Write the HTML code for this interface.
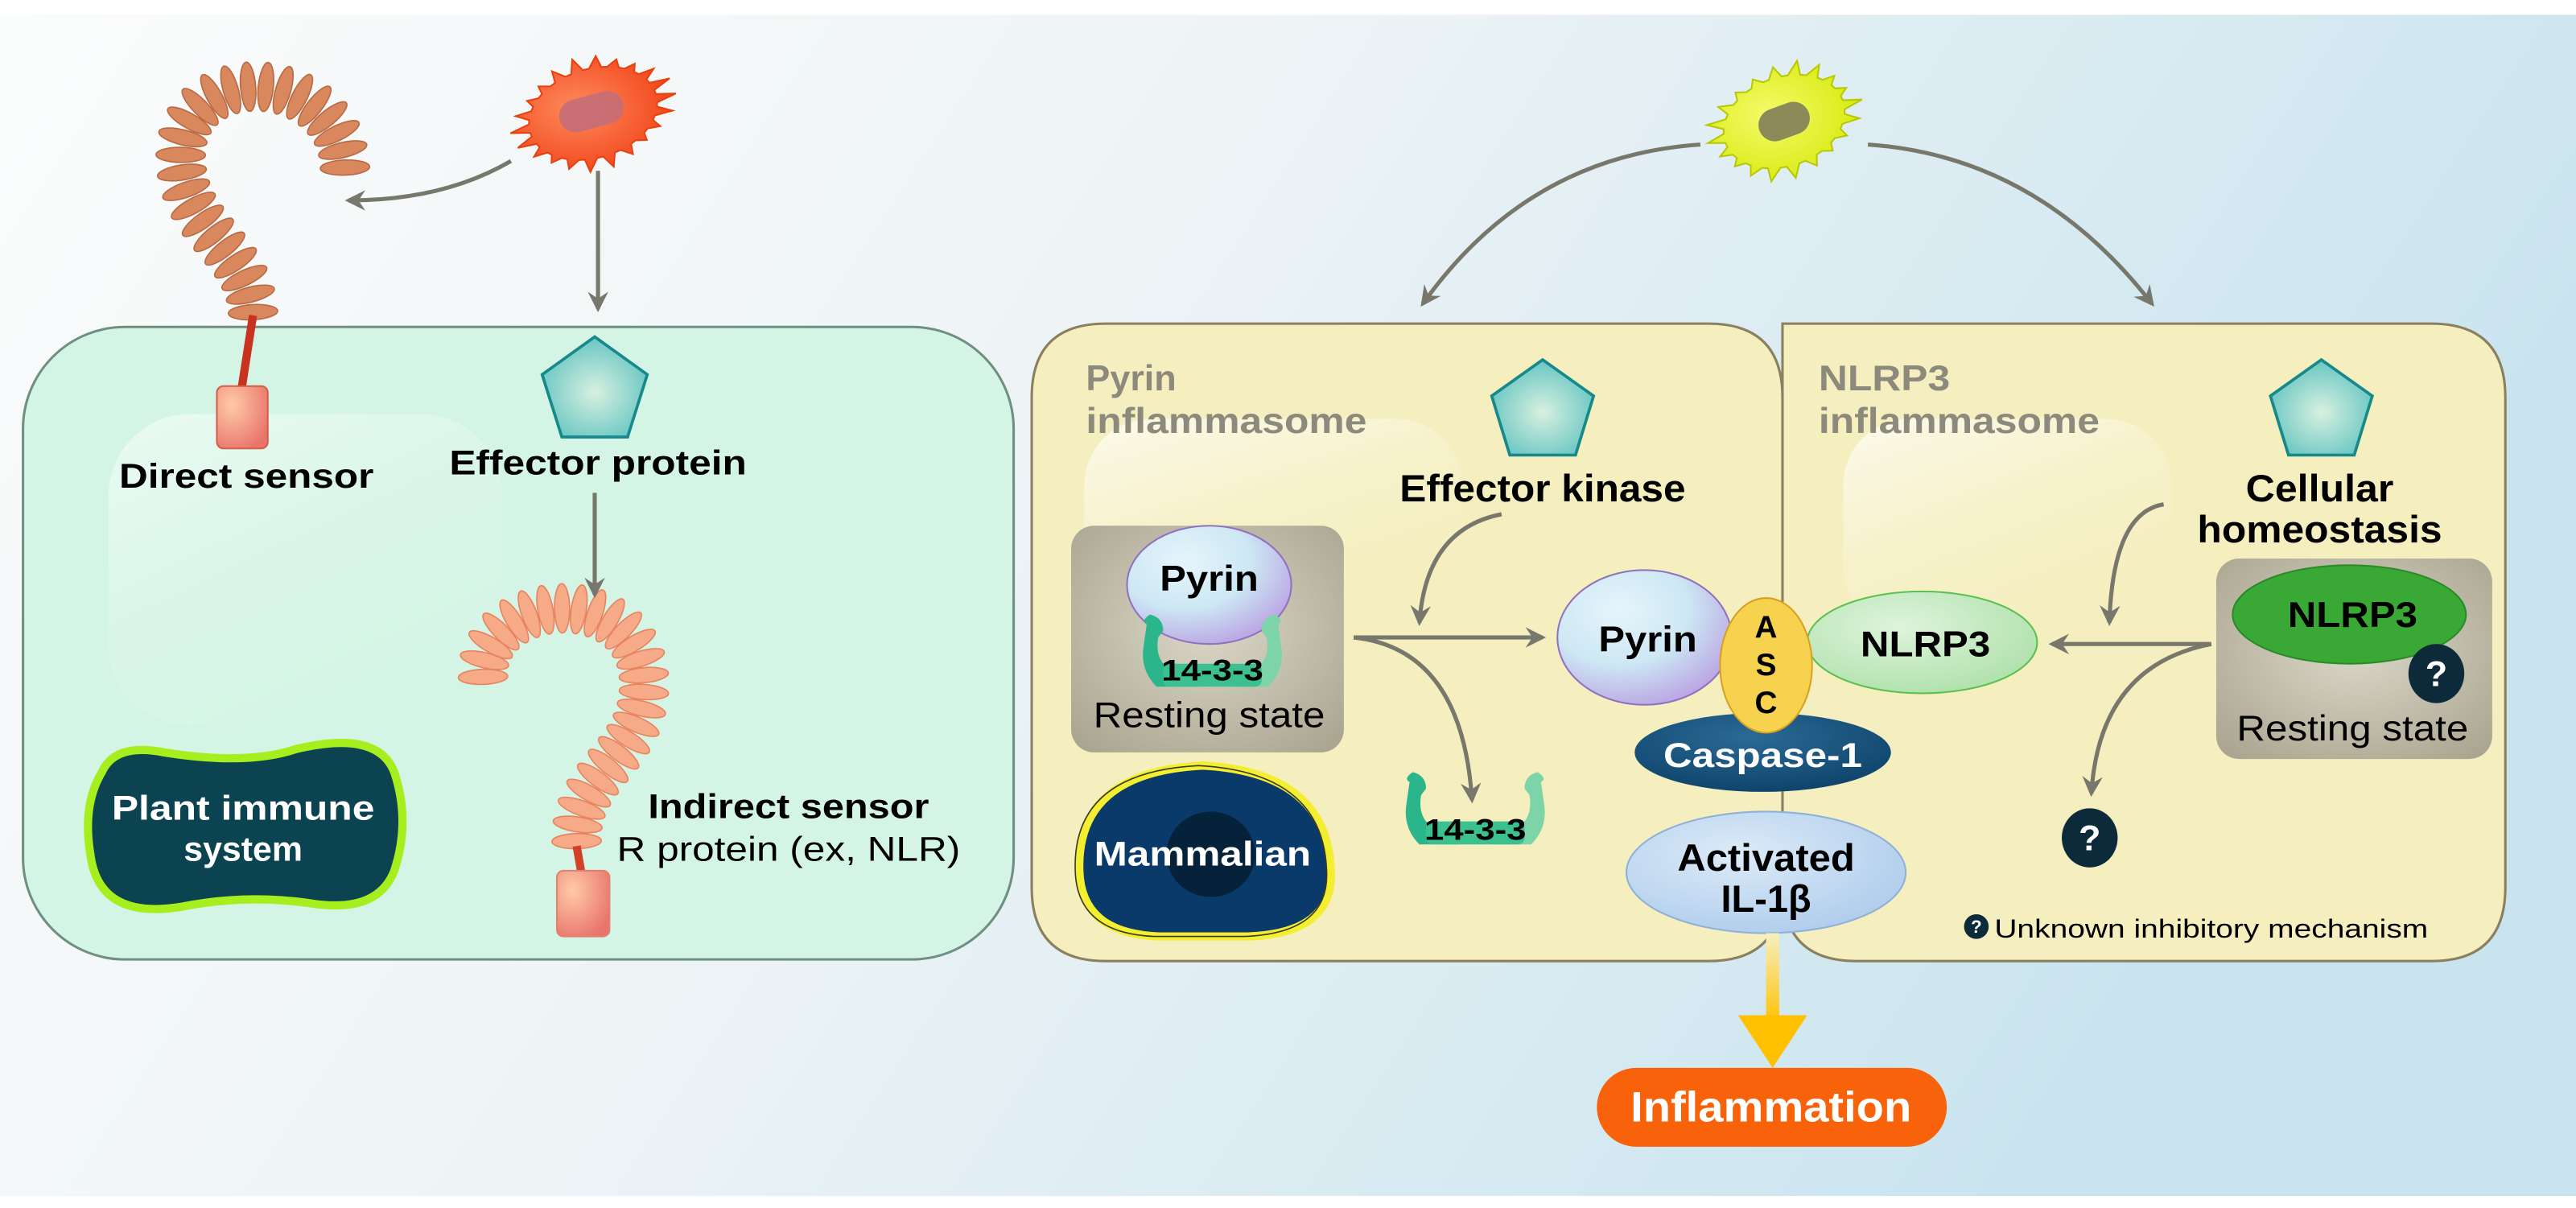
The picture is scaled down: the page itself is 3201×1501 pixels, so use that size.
<!DOCTYPE html>
<html><head><meta charset="utf-8"><style>
html,body{margin:0;padding:0;background:#fff;}
svg{display:block;}
text{font-family:"Liberation Sans",Arial,sans-serif;}
.b{font-weight:bold;}
</style></head><body>
<svg id="s" width="3201" height="1501" viewBox="0 0 1568 735.3" preserveAspectRatio="none" xmlns="http://www.w3.org/2000/svg">
<defs>
<linearGradient id="bg" x1="0" y1="0" x2="1" y2="0.3">
<stop offset="0" stop-color="#fbfcfc"/><stop offset="0.45" stop-color="#eef4f6"/><stop offset="1" stop-color="#c9e4ef"/></linearGradient>
<linearGradient id="gloss" x1="0" y1="0" x2="0.6" y2="1">
<stop offset="0" stop-color="#fff" stop-opacity="0.85"/><stop offset="0.5" stop-color="#fff" stop-opacity="0.25"/><stop offset="1" stop-color="#fff" stop-opacity="0"/></linearGradient>
<radialGradient id="pent" cx="0.5" cy="0.55" r="0.6"><stop offset="0" stop-color="#d8f0e0"/><stop offset="1" stop-color="#5ec2c0"/></radialGradient>
<radialGradient id="rest" cx="0.5" cy="0.45" r="0.7"><stop offset="0" stop-color="#dcd8c8"/><stop offset="1" stop-color="#a9a590"/></radialGradient>
<radialGradient id="pyr" cx="0.35" cy="0.3" r="0.8"><stop offset="0" stop-color="#e6f4fb"/><stop offset="0.5" stop-color="#cde8f4"/><stop offset="1" stop-color="#b79be0"/></radialGradient>
<radialGradient id="il" cx="0.4" cy="0.35" r="0.8"><stop offset="0" stop-color="#dcebf8"/><stop offset="1" stop-color="#a9c8ea"/></radialGradient>
<radialGradient id="nl" cx="0.4" cy="0.35" r="0.8"><stop offset="0" stop-color="#def4dc"/><stop offset="1" stop-color="#a9dea4"/></radialGradient>
<radialGradient id="casp" cx="0.45" cy="0.3" r="0.8"><stop offset="0" stop-color="#2a6a95"/><stop offset="1" stop-color="#0b3f66"/></radialGradient>
<radialGradient id="box" cx="0.3" cy="0.3" r="0.8"><stop offset="0" stop-color="#ffcaa8"/><stop offset="1" stop-color="#e9746a"/></radialGradient>
<radialGradient id="rb" cx="0.4" cy="0.45" r="0.6"><stop offset="0" stop-color="#ff8a5c"/><stop offset="1" stop-color="#f0451a"/></radialGradient>
<radialGradient id="yb" cx="0.4" cy="0.45" r="0.6"><stop offset="0" stop-color="#f4fb6a"/><stop offset="1" stop-color="#d7ea10"/></radialGradient>
<linearGradient id="ya" x1="0" y1="0" x2="0" y2="1"><stop offset="0" stop-color="#f6f0c0"/><stop offset="1" stop-color="#ffc000"/></linearGradient>
<marker id="ar" viewBox="0 0 12 12" refX="10" refY="6" markerWidth="5" markerHeight="5" orient="auto" markerUnits="strokeWidth">
<path d="M0,0 L12,6 L0,12 L4,6 Z" fill="#77776c"/></marker>
</defs>
<rect x="0" y="0" width="1568" height="735.3" fill="#fff"/>
<rect x="0" y="9" width="1568" height="719" fill="url(#bg)"/>

<!-- LEFT PANEL -->
<rect x="14" y="199" width="603" height="385" rx="62" fill="#d4f5e5" stroke="#6f8f80" stroke-width="1.5"/>
<rect x="66" y="252" width="240" height="190" rx="50" fill="url(#gloss)" opacity="0.6"/>

<g id="dcoil"></g>
<path d="M154,192 L147,237" stroke="#c8321e" stroke-width="5"/>
<rect x="132" y="235" width="31" height="38" rx="4" fill="url(#box)" stroke="#d06048"/>

<g id="icoil"></g>
<path d="M351,515 L354,532" stroke="#d2402a" stroke-width="5"/>
<rect x="339" y="530" width="32" height="40" rx="4" fill="url(#box)" stroke="#e08070"/>

<polygon id="rbac" fill="url(#rb)" stroke="#e8400f"/>
<rect x="340" y="58" width="40" height="20" rx="10" fill="#c46e78" opacity="0.9" transform="rotate(-15 360 68)"/>

<path d="M311,98 Q270,122 212,122" fill="none" stroke="#77776c" stroke-width="2.5" marker-end="url(#ar)"/>
<path d="M364,104 L364,188" fill="none" stroke="#77776c" stroke-width="2.5" marker-end="url(#ar)"/>
<path d="M362,300 L362,362" fill="none" stroke="#77776c" stroke-width="2.5" marker-end="url(#ar)"/>

<polygon points="362,205 394,228 382,266 342,266 330,228" fill="url(#pent)" stroke="#17898a" stroke-width="1.8"/>

<text x="150" y="290" class="b" font-size="21" text-anchor="middle" dominant-baseline="central" textLength="155" lengthAdjust="spacingAndGlyphs">Direct sensor</text>
<text x="364" y="282" class="b" font-size="21" text-anchor="middle" dominant-baseline="central" textLength="181" lengthAdjust="spacingAndGlyphs">Effector protein</text>
<text x="480" y="491" class="b" font-size="21" text-anchor="middle" dominant-baseline="central" textLength="171" lengthAdjust="spacingAndGlyphs">Indirect sensor</text>
<text x="480" y="517" font-size="21" text-anchor="middle" dominant-baseline="central" textLength="209" lengthAdjust="spacingAndGlyphs">R protein (ex, NLR)</text>

<path d="M62,470 Q70,452 100,458 Q150,466 180,456 Q230,444 240,470 Q250,500 240,530 Q230,556 190,550 Q150,544 110,552 Q60,560 55,520 Q50,490 62,470 Z" fill="#0b4450" stroke="#a6ee1e" stroke-width="5"/>
<text x="148" y="492" class="b" font-size="21" fill="#fff" text-anchor="middle" dominant-baseline="central" textLength="160" lengthAdjust="spacingAndGlyphs">Plant immune</text>
<text x="148" y="517" class="b" font-size="21" fill="#fff" text-anchor="middle" dominant-baseline="central">system</text>

<!-- RIGHT PANELS -->
<path d="M1085,197 L1480,197 Q1525,197 1525,242 L1525,540 Q1525,585 1480,585 L1130,585 Q1085,585 1085,540 Z" fill="#f5eebe" stroke="#8a8060" stroke-width="1.5"/>
<path d="M673,197 L1040,197 Q1085,197 1085,242 L1085,540 Q1085,585 1040,585 L673,585 Q628,585 628,540 L628,242 Q628,197 673,197 Z" fill="#f5eebe" stroke="#8a8060" stroke-width="1.5"/>
<rect x="660" y="255" width="230" height="120" rx="40" fill="url(#gloss)" opacity="0.8"/>
<rect x="1122" y="255" width="200" height="130" rx="40" fill="url(#gloss)" opacity="0.8"/>

<polygon id="ybac" fill="url(#yb)" stroke="#b8c800"/>
<rect x="1070" y="64" width="32" height="20" rx="10" fill="#8c8a58" transform="rotate(-20 1086 74)"/>
<path d="M1035,88 Q930,95 866,185" fill="none" stroke="#77776c" stroke-width="2.5" marker-end="url(#ar)"/>
<path d="M1137,88 Q1240,95 1310,185" fill="none" stroke="#77776c" stroke-width="2.5" marker-end="url(#ar)"/>

<text x="661" y="230" class="b" font-size="22" fill="#8c8a7c" dominant-baseline="central">Pyrin</text>
<text x="661" y="256" class="b" font-size="22" fill="#8c8a7c" dominant-baseline="central" textLength="171" lengthAdjust="spacingAndGlyphs">inflammasome</text>
<text x="1107" y="230" class="b" font-size="22" fill="#8c8a7c" dominant-baseline="central" textLength="80" lengthAdjust="spacingAndGlyphs">NLRP3</text>
<text x="1107" y="256" class="b" font-size="22" fill="#8c8a7c" dominant-baseline="central" textLength="171" lengthAdjust="spacingAndGlyphs">inflammasome</text>

<polygon points="939,219 970,241 959,277 919,277 908,241" fill="url(#pent)" stroke="#17898a" stroke-width="1.8"/>
<polygon points="1413,219 1444,241 1433,277 1393,277 1382,241" fill="url(#pent)" stroke="#17898a" stroke-width="1.8"/>
<text x="939" y="297" class="b" font-size="23" text-anchor="middle" dominant-baseline="central" textLength="174" lengthAdjust="spacingAndGlyphs">Effector kinase</text>
<text x="1412" y="297" class="b" font-size="23" text-anchor="middle" dominant-baseline="central" textLength="90" lengthAdjust="spacingAndGlyphs">Cellular</text>
<text x="1412" y="322" class="b" font-size="23" text-anchor="middle" dominant-baseline="central" textLength="149" lengthAdjust="spacingAndGlyphs">homeostasis</text>

<!-- Pyrin resting box -->
<rect x="652" y="320" width="166" height="138" rx="14" fill="url(#rest)"/>
<ellipse cx="736" cy="356" rx="50" ry="36" fill="url(#pyr)" stroke="#9070c0" stroke-width="1"/>
<text x="736" y="352" class="b" font-size="22" text-anchor="middle" dominant-baseline="central" textLength="60" lengthAdjust="spacingAndGlyphs">Pyrin</text>
<g id="h1" transform="translate(738,398)"></g>
<text x="738" y="408" class="b" font-size="18" text-anchor="middle" dominant-baseline="central" textLength="62" lengthAdjust="spacingAndGlyphs">14-3-3</text>
<text x="736" y="435" font-size="22" text-anchor="middle" dominant-baseline="central" textLength="141" lengthAdjust="spacingAndGlyphs">Resting state</text>

<g id="h2" transform="translate(898,494)"></g>
<text x="898" y="505" class="b" font-size="18" text-anchor="middle" dominant-baseline="central" textLength="62" lengthAdjust="spacingAndGlyphs">14-3-3</text>

<!-- Mammalian -->
<path d="M657,530 Q655,470 732,466 Q808,470 810,530 Q812,568 760,570 L705,570 Q658,568 657,530 Z" fill="#0a3a6a" stroke="#f4ee30" stroke-width="5"/>
<path d="M657,530 Q655,470 732,466 Q808,470 810,530 Q812,568 760,570 L705,570 Q658,568 657,530 Z" fill="none" stroke="#3a3a20" stroke-width="0.8" transform="translate(-2.5,0) scale(1,1)"/>
<ellipse cx="737" cy="520" rx="27" ry="26" fill="#06223a"/>
<text x="732" y="520" class="b" font-size="21" fill="#fff" text-anchor="middle" dominant-baseline="central" textLength="132" lengthAdjust="spacingAndGlyphs">Mammalian</text>

<!-- arrows pyrin -->
<path d="M914,313 Q868,322 864,379" fill="none" stroke="#77776c" stroke-width="2.5" marker-end="url(#ar)"/>
<path d="M824,388 L939,388" fill="none" stroke="#77776c" stroke-width="2.5" marker-end="url(#ar)"/>
<path d="M824,388 Q890,395 896,487" fill="none" stroke="#77776c" stroke-width="2.5" marker-end="url(#ar)"/>

<!-- complex -->
<ellipse cx="1075" cy="531" rx="85" ry="37" fill="url(#il)" stroke="#8fb0d8"/>
<text x="1075" y="522" class="b" font-size="23" text-anchor="middle" dominant-baseline="central" textLength="108" lengthAdjust="spacingAndGlyphs">Activated</text>
<text x="1075" y="547" class="b" font-size="23" text-anchor="middle" dominant-baseline="central">IL-1β</text>
<ellipse cx="1170" cy="391" rx="70" ry="31" fill="url(#nl)" stroke="#5ac050"/>
<text x="1172" y="392" class="b" font-size="22" text-anchor="middle" dominant-baseline="central" textLength="79" lengthAdjust="spacingAndGlyphs">NLRP3</text>
<ellipse cx="1001" cy="388" rx="53" ry="41" fill="url(#pyr)" stroke="#9070c0"/>
<text x="1003" y="389" class="b" font-size="22" text-anchor="middle" dominant-baseline="central" textLength="60" lengthAdjust="spacingAndGlyphs">Pyrin</text>
<ellipse cx="1073" cy="458" rx="78" ry="24" fill="url(#casp)"/>
<ellipse cx="1075" cy="405" rx="28" ry="41" fill="#f7d24e" stroke="#d8a020"/>
<text x="1075" y="382" class="b" font-size="19" text-anchor="middle" dominant-baseline="central">A</text>
<text x="1075" y="405" class="b" font-size="19" text-anchor="middle" dominant-baseline="central">S</text>
<text x="1075" y="428" class="b" font-size="19" text-anchor="middle" dominant-baseline="central">C</text>
<text x="1073" y="460" class="b" font-size="21" fill="#fff" text-anchor="middle" dominant-baseline="central" textLength="121" lengthAdjust="spacingAndGlyphs">Caspase-1</text>

<!-- NLRP3 resting -->
<rect x="1349" y="340" width="168" height="122" rx="14" fill="url(#rest)"/>
<ellipse cx="1430" cy="374" rx="71" ry="30" fill="#3aa835" stroke="#2a8a28"/>
<text x="1432" y="374" class="b" font-size="22" text-anchor="middle" dominant-baseline="central" textLength="79" lengthAdjust="spacingAndGlyphs">NLRP3</text>
<ellipse cx="1483" cy="410" rx="17" ry="18" fill="#0d2a3a"/>
<text x="1483" y="410" class="b" font-size="22" fill="#fff" text-anchor="middle" dominant-baseline="central">?</text>
<text x="1432" y="443" font-size="22" text-anchor="middle" dominant-baseline="central" textLength="141" lengthAdjust="spacingAndGlyphs">Resting state</text>

<path d="M1317,307 Q1286,312 1284,379" fill="none" stroke="#77776c" stroke-width="2.5" marker-end="url(#ar)"/>
<path d="M1346,392 L1249,392" fill="none" stroke="#77776c" stroke-width="2.5" marker-end="url(#ar)"/>
<path d="M1346,392 Q1278,405 1273,483" fill="none" stroke="#77776c" stroke-width="2.5" marker-end="url(#ar)"/>
<ellipse cx="1272" cy="510" rx="17" ry="18" fill="#0d2a3a"/>
<text x="1272" y="510" class="b" font-size="22" fill="#fff" text-anchor="middle" dominant-baseline="central">?</text>

<circle cx="1203" cy="564" r="7.5" fill="#0d2a3a"/>
<text x="1203" y="564" class="b" font-size="11" fill="#fff" text-anchor="middle" dominant-baseline="central">?</text>
<text x="1214" y="565" font-size="16" dominant-baseline="central" textLength="264" lengthAdjust="spacingAndGlyphs">Unknown inhibitory mechanism</text>

<!-- inflammation arrow -->
<rect x="1075" y="568" width="8" height="56" fill="url(#ya)"/>
<polygon points="1058,618 1100,618 1079,650" fill="#ffc000"/>
<rect x="972" y="650" width="213" height="48" rx="24" fill="#f8620a"/>
<text x="1078" y="674" class="b" font-size="26" fill="#fff" text-anchor="middle" dominant-baseline="central" textLength="171" lengthAdjust="spacingAndGlyphs">Inflammation</text>
</svg>
<script>
var NS="http://www.w3.org/2000/svg",S=document.getElementById('s');
function coil(gid,d,n,rx,ry,fill,stroke){
 var g=document.getElementById(gid);var p=document.createElementNS(NS,'path');p.setAttribute('d',d);p.setAttribute('fill','none');g.appendChild(p);
 var L=p.getTotalLength();
 for(var i=0;i<n;i++){var t=i*L/(n-1);var a=p.getPointAtLength(Math.max(0,t-0.5)),b=p.getPointAtLength(Math.min(L,t+0.5));
  var pt=p.getPointAtLength(t);var ang=Math.atan2(b.y-a.y,b.x-a.x)*180/Math.PI+90;
  var e=document.createElementNS(NS,'ellipse');e.setAttribute('cx',pt.x);e.setAttribute('cy',pt.y);e.setAttribute('rx',rx);e.setAttribute('ry',ry);
  e.setAttribute('fill',fill);e.setAttribute('stroke',stroke);e.setAttribute('stroke-width','0.8');
  e.setAttribute('transform','rotate('+ang+' '+pt.x+' '+pt.y+')');g.appendChild(e);}
}
coil('dcoil','M210,102 C208,40 110,35 110,95 C110,140 152,150 154,190',25,15,4.6,'#d9875d','#b86a44');
coil('icoil','M294,412 C292,358 396,352 392,420 C390,462 350,470 351,512',26,15,4.6,'#f7aa88','#e8835e');
function bac(id,cx,cy,rx,ry,rot,n){
 var pts=[];var M=n*3;
 for(var i=0;i<M;i++){var th=i/M*2*Math.PI;var k=(i%3==1)?(1.22+0.08*Math.sin(i*1.7)):1;
  var x=rx*k*Math.cos(th),y=ry*k*Math.sin(th);var c=Math.cos(rot),s=Math.sin(rot);
  pts.push((cx+x*c-y*s).toFixed(1)+','+(cy+x*s+y*c).toFixed(1));}
 document.getElementById(id).setAttribute('points',pts.join(' '));
}
bac('rbac',361,69,40,27,-0.3,22);
bac('ybac',1086,74,38,27,-0.35,20);
function hands(id){
 var g=document.getElementById(id);
 g.innerHTML='<path d="M-40,-18 Q-44,-20 -38,-24 Q-30,-22 -30,-14 L-33,-10 Q-35,2 -28,8 L-10,8 L-10,20 L-34,20 Q-44,10 -42,-4 Z" fill="#2bb58a"/>'+
 '<path d="M40,-18 Q44,-20 38,-24 Q30,-22 30,-14 L33,-10 Q35,2 28,8 L10,8 L10,20 L34,20 Q44,10 42,-4 Z" fill="#7dd4a8"/>'+
 '<rect x="-30" y="6" width="60" height="14" rx="4" fill="#3cc090"/>';
}
hands('h1');hands('h2');
</script>
</body></html>
